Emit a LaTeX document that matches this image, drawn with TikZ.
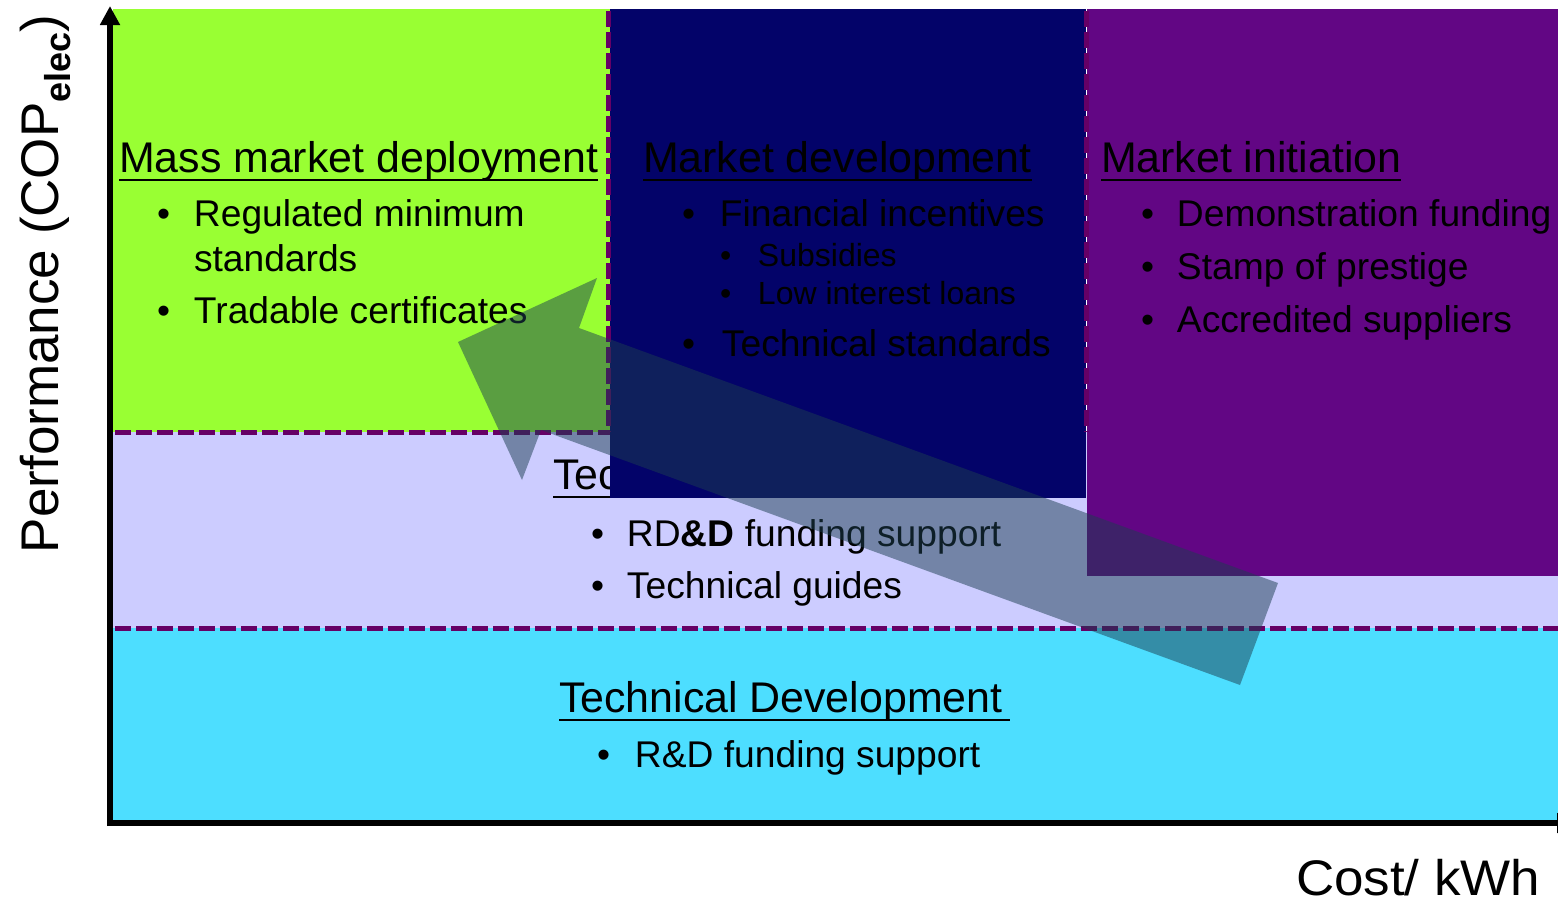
\documentclass[tikz,border=0pt]{standalone}
\usepackage{fontspec}
\setmainfont{Liberation Sans}
\usetikzlibrary{arrows.meta}
\definecolor{cgreen}{RGB}{153,255,51}
\definecolor{clav}{RGB}{204,204,255}
\definecolor{ccyan}{RGB}{77,222,255}
\definecolor{cblue}{RGB}{3,3,105}
\definecolor{cpurple}{RGB}{98,6,132}
\definecolor{cdash}{RGB}{102,0,102}
\definecolor{carrow}{RGB}{28,62,80}
\newcommand\hfont{\fontsize{42.9}{50}\selectfont}
\newcommand\bfnt{\fontsize{37.2}{44}\selectfont}
\newcommand\sfnt{\fontsize{32}{38}\selectfont}
\newcommand\bul[1]{\makebox[#1][l]{•}}
\begin{document}
\begin{tikzpicture}[x=1pt,y=-1pt,
  txt/.style={inner sep=0pt, outer sep=0pt, anchor=base west, text=black},
  head/.style={txt, font=\hfont},
  item/.style={txt, font=\bfnt},
  subitem/.style={txt, font=\sfnt},
  dashline/.style={draw=cdash, line width=5pt, dash pattern=on 16pt off 5pt},
  uline/.style={draw=black, line width=2.6pt},
  axis/.style={draw=black, line width=6pt}]
\useasboundingbox (0,0) rectangle (1558,902);
% regions
\fill[cgreen] (113,9) rectangle (610,432);
\fill[clav] (113,432) rectangle (1558,628);
\fill[ccyan] (113,628) rectangle (1558,820);
\draw[dashline] (115,432) -- (610,432);
\draw[dashline] (115,628) -- (1558,628);
% hidden heading of the middle band
\node[head] (tec) at (553,489) {Tec};
\draw[uline] ([yshift=-8pt]tec.base west) -- ([yshift=-8pt]tec.base west -| 612,0);
% boxes
\fill[cblue] (610,9) rectangle (1086,498);
\fill[cpurple] (1087,9) rectangle (1558,576);
\draw[dashline] (608,11) -- (608,432);
\draw[dashline] (1086,11) -- (1086,432);
% mass market
\node[head] (h1) at (119,172) {Mass market deployment};
\draw[uline] ([yshift=-8pt]h1.base west) -- ([yshift=-8pt]h1.base east);
\node[item] (g1) at (157,226) {\bul{37pt}Regulated minimum};
\node[item] (g2) at (194,271) {standards};
\node[item] (g3) at (157,323) {\bul{37pt}Tradable certificates};
% market development
\node[head] (h2) at (643,172) {Market development};
\draw[uline] ([yshift=-8pt]h2.base west) -- ([yshift=-8pt]h2.base east);
\node[item] (b1) at (682,226) {\bul{38pt}Financial incentives};
\node[subitem] (b2) at (720,266) {\bul{38pt}Subsidies};
\node[subitem] (b3) at (720,304) {\bul{38pt}Low interest loans};
\node[item] (b4) at (682,356) {\bul{40pt}Technical standards};
% market initiation
\node[head] (h3) at (1101,172) {Market initiation};
\draw[uline] ([yshift=-8pt]h3.base west) -- ([yshift=-8pt]h3.base east);
\node[item] (p1) at (1141,226) {\bul{36pt}Demonstration funding};
\node[item] (p2) at (1141,279) {\bul{36pt}Stamp of prestige};
\node[item] (p3) at (1141,332) {\bul{36pt}Accredited suppliers};
% middle band items
\node[item] (l1) at (591,546) {\bul{36pt}RD\textbf{\&D} funding support};
\node[item] (l2) at (591,598) {\bul{36pt}Technical guides};
% technical development
\node[head] (h4) at (559,712) {Technical Development};
\draw[uline] ([yshift=-8pt]h4.base west) -- ([yshift=-8pt]h4.base west -| 1010,0);
\node[item] (c1) at (597,767) {\bul{38pt}R\&D funding support};
% big arrow
\coordinate (atip) at (458,342);
\coordinate (aub) at (597,278);
\coordinate (aun) at (579,328);
\coordinate (aut) at (1278,583);
\coordinate (alt) at (1240,685);
\coordinate (aln) at (541,430);
\coordinate (alb) at (522,480);
\fill[carrow, fill opacity=0.5] (atip) -- (aub) -- (aun) -- (aut) -- (alt) -- (aln) -- (alb) -- cycle;
% axes
\coordinate (o) at (110,826);
\coordinate (ytop) at (110,6);
\coordinate (xo) at (107,823);
\coordinate (xend) at (1576,823);
\draw[axis, -{Triangle[length=19pt,width=19pt]}] (o) -- (ytop);
\draw[axis, -{Triangle[length=19pt,width=19pt]}] (xo) -- (xend);
% axis labels
\node[txt, font=\fontsize{53}{60}\selectfont, rotate=90] (ylab) at (58,553)
  {Performance (COP\raisebox{-12pt}{\fontsize{36}{40}\selectfont\bfseries elec})};
\node[txt, font=\fontsize{50}{56}\selectfont, text depth=0pt, xscale=1.06] (xlab) at (1296,895) {Cost/ kWh};
\end{tikzpicture}
\end{document}
